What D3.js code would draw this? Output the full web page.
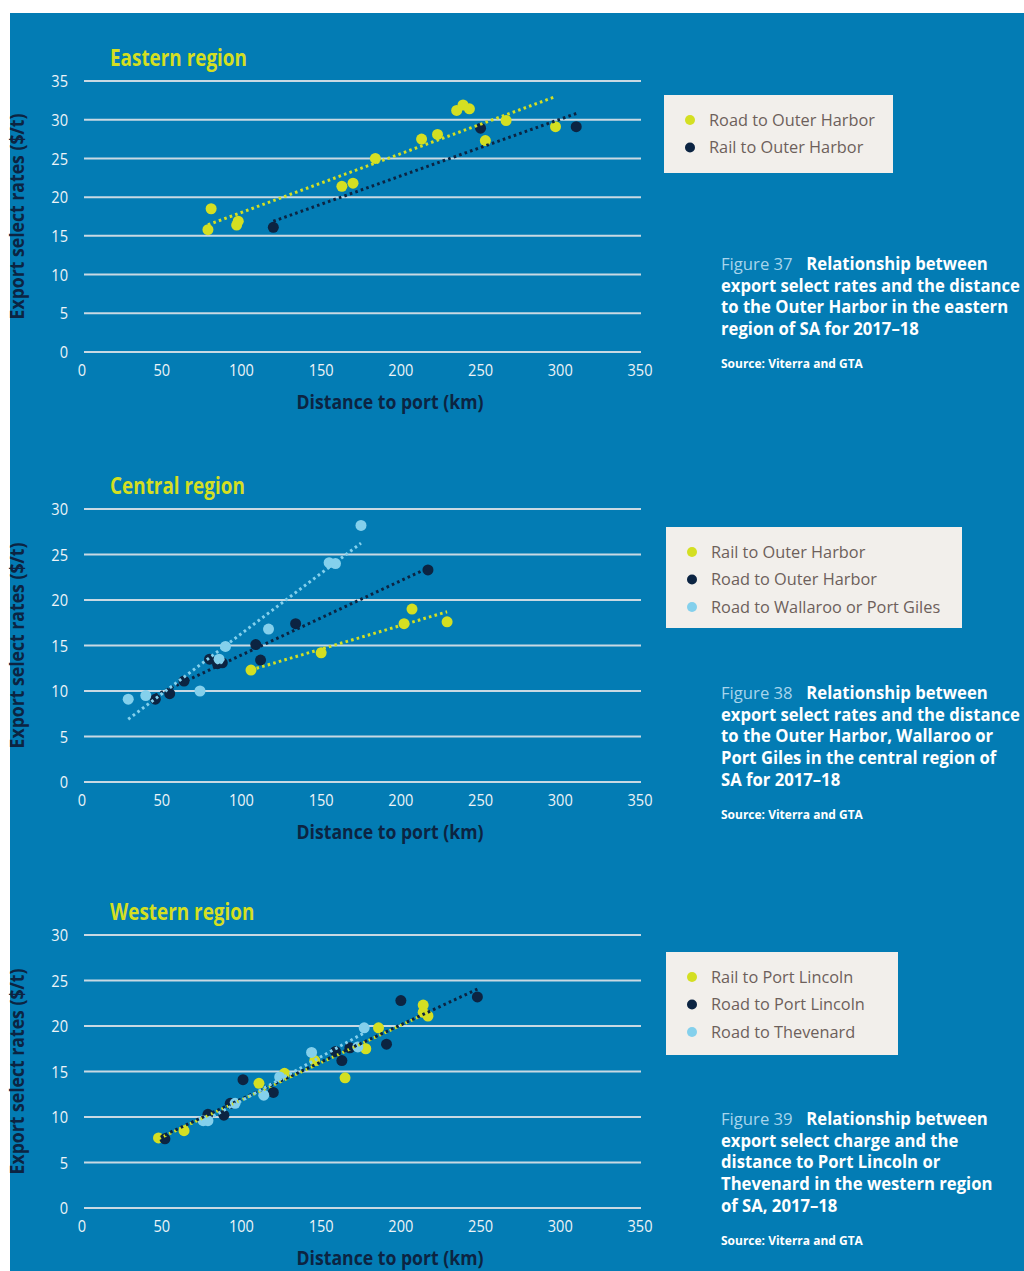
<!DOCTYPE html>
<html>
<head>
<meta charset="utf-8">
<script src="https://cdn.jsdelivr.net/npm/d3@7"></script>
<style>
  body { margin: 0; background: #fff; }
  text { font-family: "Open Sans", "Noto Sans", sans-serif; }
</style>
</head>
<body>
<svg id="fig"></svg>
<script>
// ---- data ----
var xTicks = [0, 50, 100, 150, 200, 250, 300, 350];
var yTicksEast = [0, 5, 10, 15, 20, 25, 30, 35];
var yTicksCentral = [0, 5, 10, 15, 20, 25, 30];
var yTicksWest = [0, 5, 10, 15, 20, 25, 30];

// eastern region: [distance km, rate $/t]
var eastRoadOuter = [[79, 15.8], [81, 18.5], [97, 16.4], [98, 16.9], [163, 21.4], [170, 21.8], [184, 25.0],
  [213, 27.5], [223, 28.1], [235, 31.2], [239, 31.9], [243, 31.4], [253, 27.3], [266, 29.9], [297, 29.1]];
var eastRailOuter = [[120, 16.1], [250, 28.9], [310, 29.1]];

// central region
var centralRailOuter = [[106, 12.3], [150, 14.2], [202, 17.4], [207, 19.0], [229, 17.6]];
var centralRoadOuter = [[46, 9.1], [55, 9.7], [64, 11.1], [80, 13.5], [85, 13.0], [88, 13.1], [109, 15.1],
  [112, 13.4], [134, 17.4], [217, 23.3]];
var centralRoadWallaroo = [[29, 9.1], [40, 9.5], [74, 10.0], [86, 13.5], [90, 14.9], [117, 16.8], [155, 24.1],
  [159, 24.0], [175, 28.2]];

// western region
var westRailLincoln = [[48, 7.7], [64, 8.5], [111, 13.7], [127, 14.8], [146, 16.2], [165, 14.3], [178, 17.5],
  [186, 19.8], [214, 22.3], [214, 21.5], [217, 21.1]];
var westRoadLincoln = [[52, 7.6], [79, 10.3], [89, 10.2], [93, 11.5], [101, 14.1], [120, 12.7], [159, 17.2],
  [163, 16.2], [168, 17.6], [191, 18.0], [200, 22.8], [248, 23.2]];
var westRoadThevenard = [[76, 9.6], [79, 9.6], [96, 11.5], [114, 12.4], [124, 14.4], [144, 17.1], [173, 17.7],
  [177, 19.8]];

var eastCaption = ["export select rates and the distance", "to the Outer Harbor in the eastern", "region of SA for 2017\u201318"];
var centralCaption = ["export select rates and the distance", "to the Outer Harbor, Wallaroo or",
  "Port Giles in the central region of", "SA for 2017\u201318"];
var westCaption = ["export select charge and the", "distance to Port Lincoln or",
  "Thevenard in the western region", "of SA, 2017\u201318"];

// ---- styles ----
var W = 1024, H = 1271;
var bg = "#037cb4", yellow = "#d4df22", navy = "#0c2442", light = "#84d0ec";
var gridCol = "#c9d9e3", tickCol = "#eef4f8";

var svg = d3.select("#fig").attr("width", W).attr("height", H);

svg.append("rect")
    .attr("x", 10).attr("y", 13)
    .attr("width", W - 10).attr("height", H - 13)
    .attr("fill", bg);

var x = d3.scaleLinear().domain([0, 350]).range([82, 640]);

// the original uses a condensed face; squeeze the installed one to the same width
function squeeze(str, size, weight, target) {
  var t = svg.append("text").attr("font-size", size).attr("font-weight", weight).text(str);
  var w = t.node().getComputedTextLength();
  t.remove();
  return target / w;
}
var kTitle = squeeze("Eastern region", 23, "bold", 137);
var kAxis = squeeze("Distance to port (km)", 19, "bold", 187);
var kCap = squeeze("export select rates and the distance", 17, "bold", 299);
var kSrc = squeeze("Source: Viterra and GTA", 13, "bold", 142);
var kTick = squeeze("350", 17, "normal", 25);
var kLeg = squeeze("Road to Outer Harbor", 17, "normal", 166);

function cText(parent, px, py, k, extra) {
  return parent.append("text")
      .attr("transform", "translate(" + px + "," + py + ")" + (extra || "") + " scale(" + k + ",1)");
}

function fitLine(pts) {
  var mx = d3.mean(pts, function(d) { return d[0]; }),
      my = d3.mean(pts, function(d) { return d[1]; });
  var sxy = d3.sum(pts, function(d) { return (d[0] - mx) * (d[1] - my); }),
      sxx = d3.sum(pts, function(d) { return (d[0] - mx) * (d[0] - mx); });
  var b = sxy / sxx, a = my - b * mx;
  return d3.extent(pts, function(d) { return d[0]; }).map(function(v) { return [v, a + b * v]; });
}

function drawPanel(p) {
  var y = d3.scaleLinear().domain([0, p.yMax]).range([p.bottom, p.top]);
  var g = svg.append("g");

  // title
  cText(g, 110, p.top - 15, kTitle)
      .attr("fill", yellow)
      .attr("font-size", 23).attr("font-weight", "bold")
      .text(p.title);

  // gridlines
  g.selectAll("line.grid").data(p.yTicks).enter().append("line")
      .attr("class", "grid")
      .attr("x1", x(0) + 2).attr("x2", x(350) + 1)
      .attr("y1", function(d) { return y(d); })
      .attr("y2", function(d) { return y(d); })
      .attr("stroke", gridCol).attr("stroke-width", 2);

  // y tick labels
  p.yTicks.forEach(function(d) {
    cText(g, 68, y(d), kTick)
        .attr("dy", "0.36em")
        .attr("text-anchor", "end")
        .attr("fill", tickCol).attr("font-size", 17)
        .text(d);
  });

  // x tick labels
  xTicks.forEach(function(d) {
    cText(g, x(d), p.bottom + 24, kTick)
        .attr("text-anchor", "middle")
        .attr("fill", tickCol).attr("font-size", 17)
        .text(d);
  });

  // axis titles
  cText(g, 390, p.bottom + 57, kAxis)
      .attr("text-anchor", "middle")
      .attr("fill", navy).attr("font-size", 19).attr("font-weight", "bold")
      .text("Distance to port (km)");

  cText(g, 24, (p.top + p.bottom) / 2, kAxis, " rotate(-90)")
      .attr("text-anchor", "middle")
      .attr("fill", navy).attr("font-size", 19).attr("font-weight", "bold")
      .text("Export select rates ($/t)");

  // points
  p.series.forEach(function(s) {
    g.selectAll(null).data(s.data).enter().append("circle")
        .attr("cx", function(d) { return x(d[0]); })
        .attr("cy", function(d) { return y(d[1]); })
        .attr("r", 5.5)
        .attr("fill", s.color);
  });

  // dotted trend lines
  var line = d3.line()
      .x(function(d) { return x(d[0]); })
      .y(function(d) { return y(d[1]); });
  p.series.forEach(function(s) {
    g.append("path")
        .datum(fitLine(s.data))
        .attr("d", line)
        .attr("fill", "none")
        .attr("stroke", s.color)
        .attr("stroke-width", 3)
        .attr("stroke-dasharray", "2.6 3.2");
  });

  // legend
  var lg = g.append("g").attr("transform", "translate(" + p.legend[0] + "," + p.legend[1] + ")");
  lg.append("rect")
      .attr("width", p.legend[2]).attr("height", p.legend[3])
      .attr("fill", "#f2efeb");
  p.series.forEach(function(s, i) {
    var ly = 25 + i * 27.5;
    lg.append("circle").attr("cx", 26).attr("cy", ly).attr("r", 5).attr("fill", s.color);
    cText(lg, 45, ly, kLeg)
        .attr("dy", "0.35em")
        .attr("fill", "#6d5f5b").attr("font-size", 17)
        .text(s.name);
  });

  // caption
  var cap = cText(g, 721, p.capY, kCap)
      .attr("font-size", 17).attr("font-weight", "bold").attr("fill", "#ffffff");
  cap.append("tspan")
      .attr("fill", "#a8d5ec").attr("font-weight", "normal")
      .text(p.figure);
  cap.append("tspan").attr("dx", 14).text("Relationship between");
  p.caption.forEach(function(c, i) {
    cText(g, 721, p.capY + (i + 1) * 21.7, kCap)
        .attr("font-size", 17).attr("font-weight", "bold").attr("fill", "#ffffff")
        .text(c);
  });
  cText(g, 721, p.capY + (p.caption.length + 1) * 21.7 + 11, kSrc)
      .attr("font-size", 13).attr("font-weight", "bold").attr("fill", "#ffffff")
      .text("Source: Viterra and GTA");
}

drawPanel({
  title: "Eastern region", top: 81, bottom: 352, yMax: 35, yTicks: yTicksEast,
  series: [
    {name: "Road to Outer Harbor", data: eastRoadOuter, color: yellow},
    {name: "Rail to Outer Harbor", data: eastRailOuter, color: navy}
  ],
  legend: [664, 95, 229, 78],
  figure: "Figure 37", caption: eastCaption, capY: 270
});

drawPanel({
  title: "Central region", top: 509, bottom: 782, yMax: 30, yTicks: yTicksCentral,
  series: [
    {name: "Rail to Outer Harbor", data: centralRailOuter, color: yellow},
    {name: "Road to Outer Harbor", data: centralRoadOuter, color: navy},
    {name: "Road to Wallaroo or Port Giles", data: centralRoadWallaroo, color: light}
  ],
  legend: [666, 527, 296, 101],
  figure: "Figure 38", caption: centralCaption, capY: 699
});

drawPanel({
  title: "Western region", top: 935, bottom: 1208, yMax: 30, yTicks: yTicksWest,
  series: [
    {name: "Rail to Port Lincoln", data: westRailLincoln, color: yellow},
    {name: "Road to Port Lincoln", data: westRoadLincoln, color: navy},
    {name: "Road to Thevenard", data: westRoadThevenard, color: light}
  ],
  legend: [666, 952, 232, 103],
  figure: "Figure 39", caption: westCaption, capY: 1125
});
</script>
</body>
</html>
